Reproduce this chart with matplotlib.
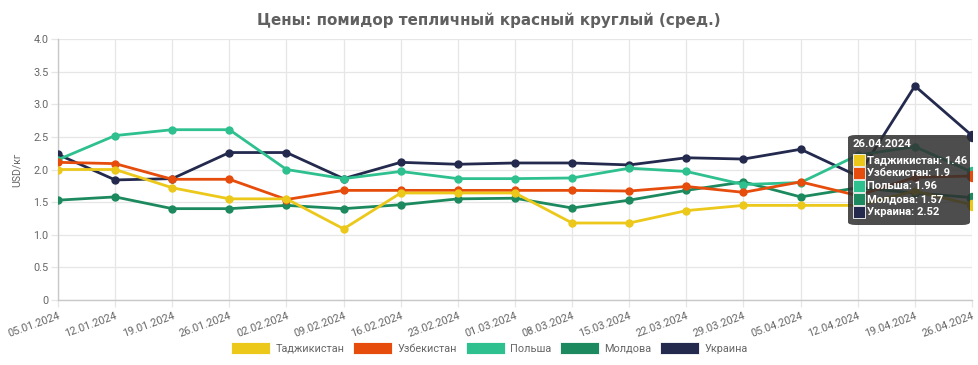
import matplotlib
matplotlib.use("Agg")
import matplotlib.pyplot as plt
from matplotlib.patches import Patch, FancyBboxPatch, Rectangle

dates = ['05.01.2024', '12.01.2024', '19.01.2024', '26.01.2024', '02.02.2024',
         '09.02.2024', '16.02.2024', '23.02.2024', '01.03.2024', '08.03.2024',
         '15.03.2024', '22.03.2024', '29.03.2024', '05.04.2024', '12.04.2024',
         '19.04.2024', '26.04.2024']

tajikistan = [2.00, 2.00, 1.72, 1.55, 1.55, 1.09, 1.64, 1.64, 1.64, 1.18,
              1.18, 1.37, 1.45, 1.45, 1.45, 1.67, 1.46]
uzbekistan = [2.11, 2.09, 1.85, 1.85, 1.54, 1.68, 1.68, 1.68, 1.68, 1.68,
              1.67, 1.74, 1.65, 1.81, 1.60, 1.88, 1.90]
poland = [2.15, 2.52, 2.61, 2.61, 2.00, 1.86, 1.97, 1.86, 1.86, 1.87,
          2.02, 1.97, 1.77, 1.80, 2.22, 2.35, 1.96]
moldova = [1.53, 1.58, 1.40, 1.40, 1.45, 1.40, 1.46, 1.55, 1.56, 1.41,
           1.53, 1.68, 1.81, 1.58, 1.72, 1.64, 1.57]
ukraine = [2.23, 1.84, 1.86, 2.26, 2.26, 1.86, 2.11, 2.08, 2.10, 2.10,
           2.07, 2.18, 2.16, 2.31, 1.90, 3.28, 2.52]

series_names = ['Таджикистан', 'Узбекистан', 'Польша', 'Молдова', 'Украина']
series_values = [tajikistan, uzbekistan, poland, moldova, ukraine]
series_colors = ['#EBC81A', '#E64C0C', '#2EC08F', '#1C8A5E', '#232A4E']

y_ticks = [0, 0.5, 1.0, 1.5, 2.0, 2.5, 3.0, 3.5, 4.0]
y_tick_labels = ['0', '0.5', '1.0', '1.5', '2.0', '2.5', '3.0', '3.5', '4.0']

plt.rcParams['font.family'] = ['Roboto', 'DejaVu Sans']

W, H = 979, 365
fig = plt.figure(figsize=(W / 100, H / 100), dpi=100)
ax = fig.add_axes([58 / W, 1 - 300 / H, (972 - 58) / W, (300 - 39) / H])

x = list(range(len(dates)))
n = len(series_names)
for i, (name, vals, col) in enumerate(zip(series_names, series_values, series_colors)):
    z = 10 + (n - i)
    ax.plot(x, vals, color=col, lw=2.0, zorder=z, solid_capstyle='round')
    ax.plot(x[:-1], vals[:-1], 'o', color=col, ms=5.0, zorder=z, mec=col)
    ax.plot(x[-1:], vals[-1:], 'o', color=col, ms=7.2, zorder=z, mec=col)

ax.set_xlim(0, len(dates) - 1)
ax.set_ylim(0, 4.0)
ax.set_yticks(y_ticks)
ax.set_yticklabels(y_tick_labels)
ax.set_xticks(x)
ax.set_xticklabels(dates, rotation=20, ha='right', rotation_mode='anchor')

grid_c = '#E6E6E6'
ax.grid(True, color=grid_c, lw=0.9, zorder=0)
for s in ['top', 'right']:
    ax.spines[s].set_visible(False)
for s in ['left', 'bottom']:
    ax.spines[s].set_color('#C8C8C8')
    ax.spines[s].set_linewidth(1.0)
ax.tick_params(axis='both', colors=grid_c, labelcolor='#666666', labelsize=7.8,
               length=5, width=0.9)
ax.tick_params(axis='x', pad=3)
ax.tick_params(axis='y', pad=2)
ax.set_ylabel('USD/кг', fontsize=7.6, color='#666666', labelpad=8)

fig.text(489 / W, 1 - 20 / H, 'Цены: помидор тепличный красный круглый (сред.)',
         ha='center', va='center', fontsize=10.9, fontweight='bold',
         color='#606060', family=['DejaVu Sans'])

handles = [Patch(facecolor=c, edgecolor='white', lw=0.6) for c in series_colors]
fig.legend(handles, series_names, loc='center', bbox_to_anchor=(0.5, 1 - 348 / H),
           ncol=5, frameon=False, fontsize=7.8, handlelength=3.6, handleheight=1.3,
           columnspacing=0.8, handletextpad=0.5, labelcolor='#666666')

# tooltip
tx0, ty0, tw, th = 848, 135, 122, 90
box = FancyBboxPatch((tx0 / W, 1 - (ty0 + th) / H), tw / W, th / H,
                     boxstyle='round,pad=0,rounding_size=0.008',
                     transform=fig.transFigure, facecolor='#2E2E2E', alpha=0.85,
                     edgecolor='none', zorder=50)
fig.patches.append(box)
fig.text(853 / W, 1 - 144 / H, dates[-1], color='white', fontsize=8.2,
         fontweight='bold', va='center', ha='left', zorder=51)
for k, (name, vals, col) in enumerate(zip(series_names, series_values, series_colors)):
    yy = 160 + k * 13
    sq = Rectangle((853 / W, 1 - (yy + 6) / H), 12 / W, 12 / H,
                   transform=fig.transFigure, facecolor=col, edgecolor='white',
                   lw=0.6, zorder=51)
    fig.patches.append(sq)
    fig.text(867 / W, 1 - yy / H, f'{name}: {vals[-1]:g}', color='white',
             fontsize=8.0, fontweight='bold', va='center', ha='left', zorder=51)

fig.savefig('out.png', dpi=100, facecolor='white')
